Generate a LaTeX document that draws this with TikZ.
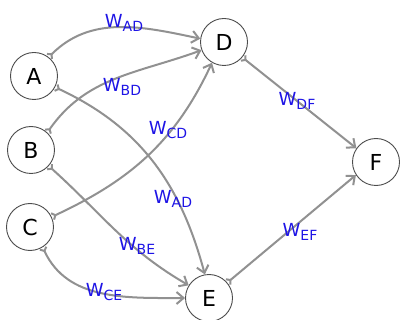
\documentclass[tikz,border=0pt]{standalone}
\usepackage{fontspec}
\setmainfont{DejaVu Sans}
\usetikzlibrary{arrows.meta}
\definecolor{edgegray}{RGB}{145,145,145}
\definecolor{wblue}{RGB}{30,20,230}
\newcommand{\wlab}[1]{\fontsize{18}{20}\selectfont W\raisebox{-0.45ex}{\fontsize{14}{16}\selectfont #1}}
\tikzset{
  vert/.style={circle, draw=black!70, line width=0.9pt, fill=white, minimum size=47pt, inner sep=0pt, font=\fontsize{22}{26}\selectfont},
  wire/.style={draw=edgegray, line width=2pt, {Straight Barb[reversed,length=3pt,width=7pt]}-{Straight Barb[length=7pt,width=12pt]}},
  wtxt/.style={text=wblue, inner sep=0pt}
}
\begin{document}
\begin{tikzpicture}[x=1pt,y=-1pt]
\useasboundingbox[fill=white] (0,0) rectangle (401,320);
\node[vert] (A) at (34,76) {A};
\node[vert] (B) at (31,150) {B};
\node[vert] (C) at (30,227) {C};
\node[vert] (D) at (224,42) {D};
\node[vert] (E) at (209,298) {E};
\node[vert] (F) at (376,162) {F};
\draw[wire] (A.52) to[out=45,in=168] (D.172);
\draw[wire] (B.47) to[out=55,in=200] (D.200);
\draw[wire] (C.25) to[out=25,in=245] (D.240);
\draw[wire] (A.-28) to[out=-25,in=105] (E.100);
\draw[wire] (B.-42) to[out=-42,in=150] (E.148);
\draw[wire] (C.-58) to[out=-65,in=180] (E.180);
\draw[wire] (D.-40) -- (F.145);
\draw[wire] (E.40) -- (F.213);
\node[wtxt] (lad) at (124,23) {\wlab{AD}};
\node[wtxt] (lbd) at (122,87) {\wlab{BD}};
\node[wtxt] (lcd) at (168,130) {\wlab{CD}};
\node[wtxt] (ldf) at (297,101) {\wlab{DF}};
\node[wtxt] (lad2) at (173,199) {\wlab{AD}};
\node[wtxt] (lbe) at (137,246) {\wlab{BE}};
\node[wtxt] (lce) at (104,292) {\wlab{CE}};
\node[wtxt] (lef) at (300,232) {\wlab{EF}};
\end{tikzpicture}
\end{document}
